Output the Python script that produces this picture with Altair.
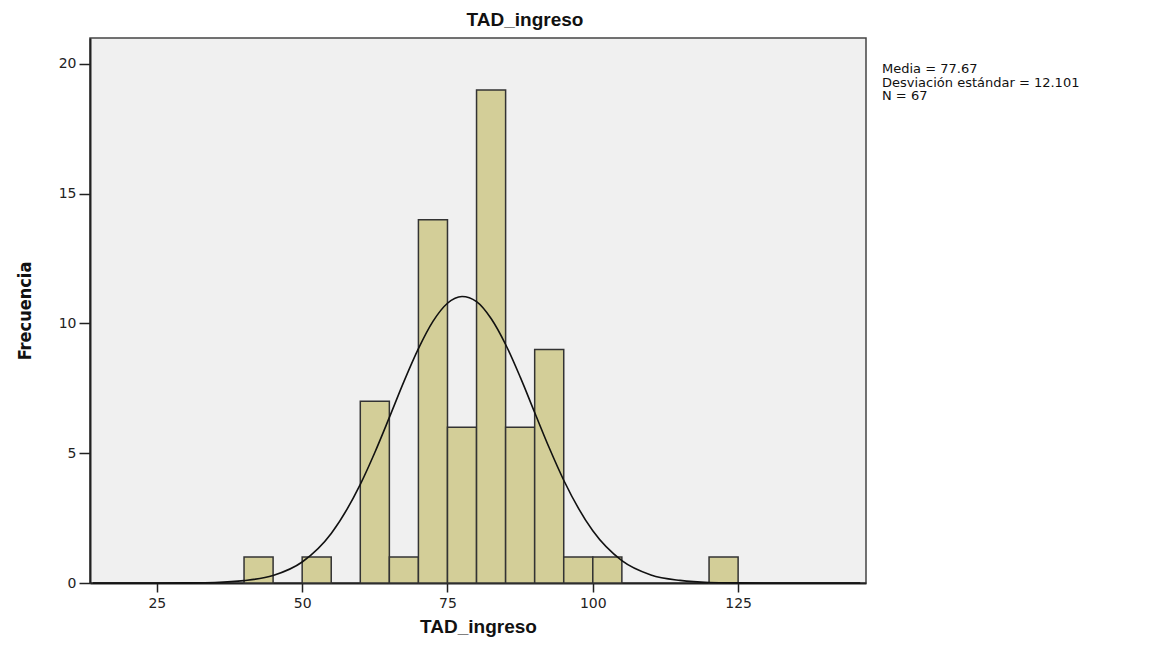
import altair as alt
import pandas as pd

# Histogram bins (lower edge, upper edge, frequency)
bin_start = [40, 50, 60, 65, 70, 75, 80, 85, 90, 95, 100, 120]
bin_end = [45, 55, 65, 70, 75, 80, 85, 90, 95, 100, 105, 125]
freq = [1, 1, 7, 1, 14, 6, 19, 6, 9, 1, 1, 1]

# Normal curve
curve_x = [14, 20, 25, 30, 35, 40, 45, 50, 55, 60, 62.5, 65, 67.5, 70, 72.5, 75, 77.5,
           80, 82.5, 85, 87.5, 90, 92.5, 95, 100, 105, 110, 115, 120, 125, 130, 140, 146]
curve_y = [0, 0, 0, 0.005, 0.02, 0.09, 0.29, 0.81, 1.91, 3.8, 5.03, 6.38, 7.76, 9.03, 10.08,
           10.78, 11.04, 10.84, 10.19, 9.19, 7.94, 6.57, 5.21, 3.96, 2.01, 0.86, 0.31, 0.1,
           0.02, 0.005, 0, 0, 0]

x_ticks = [25, 50, 75, 100, 125]
y_ticks = [0, 5, 10, 15, 20]
stats_text = "Media = 77.67\nDesviación estándar = 12.101\nN = 67"

bars_df = pd.DataFrame({"start": bin_start, "end": bin_end, "freq": freq})
curve_df = pd.DataFrame({"x": curve_x, "y": curve_y})

FONT = "Liberation Sans"
LABEL_FONT = "DejaVu Sans"

xscale = alt.Scale(domain=[13.5, 147], nice=False, zero=False)
yscale = alt.Scale(domain=[0, 21], nice=False)

xaxis = alt.Axis(values=x_ticks, title="TAD_ingreso", grid=False, tickSize=9,
                 tickColor="#222", domainColor="#222", domainWidth=2, tickWidth=1.5,
                 labelColor="#222",
                 labelFontSize=14, labelFont=LABEL_FONT, titleFont=FONT,
                 titleFontSize=19, titleFontWeight="bold", titleColor="#111",
                 titlePadding=7, labelPadding=4)
yaxis = alt.Axis(values=y_ticks, title="Frecuencia", grid=False, tickSize=11,
                 tickColor="#222", domainColor="#222", domainWidth=2, tickWidth=1.5,
                 labelColor="#222",
                 labelFontSize=14, labelFont=LABEL_FONT,
                 titleFont="DejaVu Sans Condensed, Liberation Sans",
                 titleFontSize=18,
                 titleFontWeight="bold", titleColor="#111", titlePadding=24,
                 labelPadding=3)

bars = alt.Chart(bars_df).mark_bar(color="#D3CE98", stroke="#333",
                                   strokeWidth=1.5, opacity=1).encode(
    x=alt.X("start:Q", scale=xscale, axis=xaxis),
    x2="end:Q",
    y=alt.Y("freq:Q", scale=yscale, axis=yaxis),
    y2=alt.datum(0),
)

curve = alt.Chart(curve_df).mark_line(color="#111", strokeWidth=1.6,
                                      interpolate="monotone").encode(
    x=alt.X("x:Q", scale=xscale),
    y=alt.Y("y:Q", scale=yscale),
)

stats = alt.Chart(pd.DataFrame({"t": [stats_text]})).mark_text(
    align="left", baseline="top", fontSize=13, font=LABEL_FONT, color="#111",
    lineBreak="\n", lineHeight=13.5, clip=False
).encode(text="t:N", x=alt.value(792), y=alt.value(25))

chart = alt.layer(bars, curve, stats).properties(
    width=776, height=545,
    title=alt.TitleParams("TAD_ingreso", fontSize=19, fontWeight="bold",
                          font=FONT, color="#111", dx=47, offset=8),
    autosize=alt.AutoSizeParams(type="none"),
    padding={"left": 82, "top": 30, "right": 277, "bottom": 56},
    view=alt.ViewBackground(fill="#F0F0F0", stroke="#444", strokeWidth=1.5),
).configure(background="white")

chart.save("out.html", embed_options={"renderer": "svg", "actions": False})
